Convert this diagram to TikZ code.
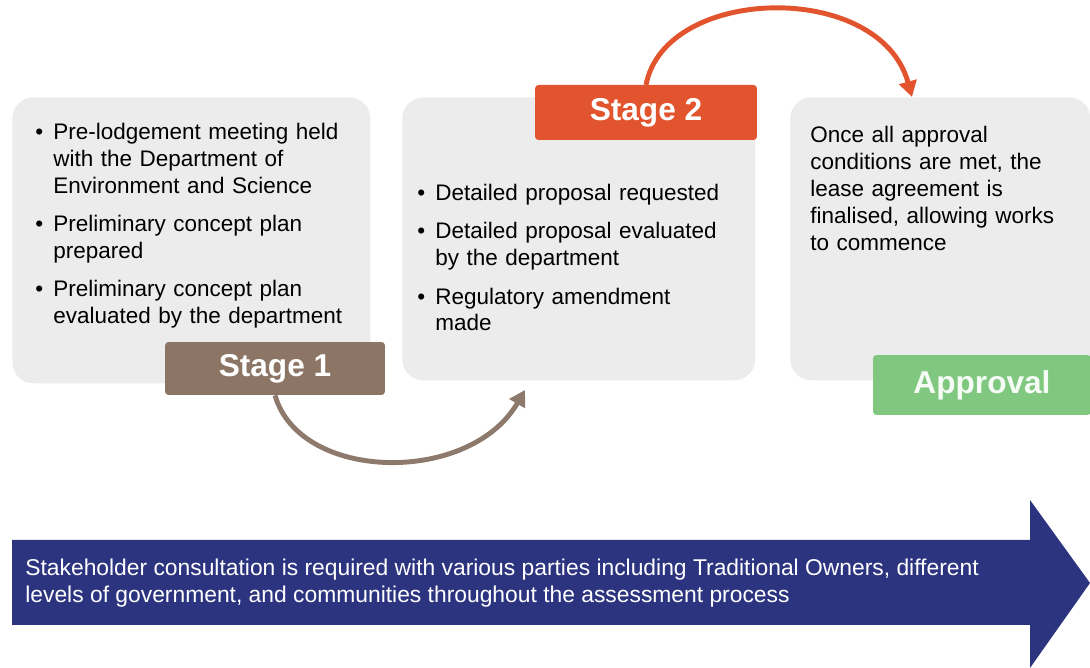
\documentclass[tikz,border=0pt]{standalone}
\usepackage{fontspec}
\setmainfont{Liberation Sans}
\usetikzlibrary{arrows.meta,positioning}
\definecolor{panelgray}{RGB}{236,236,236}
\definecolor{stagebrown}{RGB}{140,117,100}
\definecolor{stageorange}{RGB}{226,84,46}
\definecolor{okgreen}{RGB}{128,200,128}
\definecolor{bannerblue}{RGB}{44,52,128}
\definecolor{arcbrown}{RGB}{142,122,108}
\newcommand{\bl}{\hangindent=0.8em\hangafter=1\noindent\makebox[0.8em][l]{\textbullet}}
\tikzstyle{panel} = [
	rectangle,
	rounded corners=12pt,
	fill = panelgray,
	anchor = north west,
	inner sep = 0pt
	]
\tikzstyle{stage} = [
	rectangle,
	rounded corners=2pt,
	text = white,
	font = \fontsize{18}{22}\selectfont\bfseries,
	inner sep = 0pt
	]
\tikzstyle{txt} = [
	inner sep = 0pt,
	text width = 7cm,
	font = \fontsize{12.8}{15.3}\selectfont\setlength{\parskip}{6.5pt}\raggedright
	]
\tikzstyle{flow} = [
	line width = 2.8pt,
	-{Triangle[length=9pt,width=10pt]}
	]

\begin{document}
\begin{tikzpicture}[x=0.02cm,y=-0.02cm]
	\useasboundingbox (0,0) rectangle (1090,668);
	\node[panel, minimum width=7.16cm, minimum height=5.72cm] (box1) at (12,97) {};
	\node[panel, minimum width=7.06cm, minimum height=5.66cm] (box2) at (402,97) {};
	\node[panel, minimum width=6cm, minimum height=5.66cm] (box3) at (790,97) {};
	\node[txt, below right=0.52cm and 0.46cm of box1.north west] (t1) {%
		\bl Pre-lodgement meeting held\newline with the Department of\newline Environment and Science\par
		\bl Preliminary concept plan\newline prepared\par
		\bl Preliminary concept plan\newline evaluated by the department\par};
	\node[txt, below right=1.74cm and 0.3cm of box2.north west] (t2) {%
		\bl Detailed proposal requested\par
		\bl Detailed proposal evaluated\newline by the department\par
		\bl Regulatory amendment\newline made\par};
	\node[txt, below right=0.58cm and 0.4cm of box3.north west] (t3) {%
		Once all approval\newline conditions are met, the\newline lease agreement is\newline finalised, allowing works\newline to commence};
	\coordinate (in2) at (525,390);
	\coordinate (in3) at (912,97);
	\node[stage, fill=stagebrown, minimum width=4.4cm, minimum height=1.06cm] (s1) at (275,368.5) {Stage 1};
	\draw[flow, arcbrown] (s1.south) .. controls +(25,87) and +(-55,95) .. (in2);
	\draw[flow, stageorange] (646,85) .. controls +(19,-100) and +(-32,-117) .. (in3);
	\node[stage, fill=stageorange, minimum width=4.44cm, minimum height=1.1cm] (s2) at (646,112.5) {Stage 2};
	\node[stage, fill=okgreen, text=white!92!okgreen, minimum width=4.36cm, minimum height=1.2cm] (ok) at (982,385) {Approval};
	\fill[bannerblue] (12,540) -- (1030,540) -- (1030,500) -- (1090,583) -- (1030,668) -- (1030,625) -- (12,625) -- cycle;
	\node[anchor=west, inner sep=0pt, text=white, align=left, font=\fontsize{13}{15.3}\selectfont] (cons) at (25,583)
		{Stakeholder consultation is required with various parties including Traditional Owners, different\\levels of government, and communities throughout the assessment process};
\end{tikzpicture}
\end{document}
